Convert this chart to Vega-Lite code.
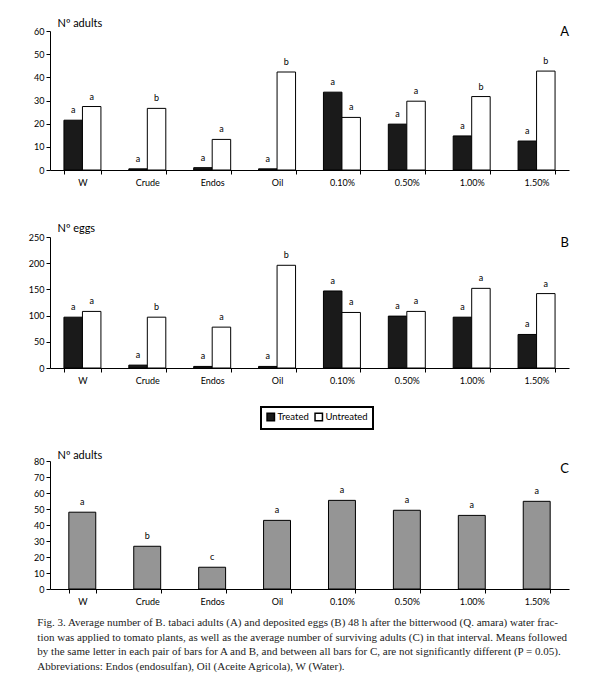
{
  "$schema": "https://vega.github.io/schema/vega-lite/v6.json",
  "background": "white",
  "padding": {"left": 28, "top": 17, "right": 10, "bottom": 5},
  "config": {
    "view": {"stroke": null},
    "font": "Lato",
    "axis": {"domainColor": "black", "tickColor": "black", "labelColor": "black", "labelFont": "Lato", "labelFontSize": 9, "titleFont": "Lato", "titleFontSize": 11, "titleFontWeight": "normal", "titleColor": "black", "grid": false, "tickSize": 4},
    "axisX": {"tickBand": "extent", "labelAngle": 0, "labelPadding": 4},
    "axisY": {"labelPadding": 2, "titleAngle": 0, "titleAlign": "left", "titleBaseline": "middle"},
    "legend": {"strokeWidth": 2},
    "title": {"font": "Lato", "fontWeight": "normal", "color": "black"}
  },
  "datasets": {
    "adults": [
      {"trt": "W", "group": "Treated", "value": 21.5, "letter": "a"},
      {"trt": "W", "group": "Untreated", "value": 27.4, "letter": "a"},
      {"trt": "Crude", "group": "Treated", "value": 0.5, "letter": "a"},
      {"trt": "Crude", "group": "Untreated", "value": 26.6, "letter": "b"},
      {"trt": "Endos", "group": "Treated", "value": 1.0, "letter": "a"},
      {"trt": "Endos", "group": "Untreated", "value": 13.2, "letter": "a"},
      {"trt": "Oil", "group": "Treated", "value": 0.5, "letter": "a"},
      {"trt": "Oil", "group": "Untreated", "value": 42.3, "letter": "b"},
      {"trt": "0.10%", "group": "Treated", "value": 33.6, "letter": "a"},
      {"trt": "0.10%", "group": "Untreated", "value": 22.7, "letter": "a"},
      {"trt": "0.50%", "group": "Treated", "value": 19.8, "letter": "a"},
      {"trt": "0.50%", "group": "Untreated", "value": 29.7, "letter": "a"},
      {"trt": "1.00%", "group": "Treated", "value": 14.7, "letter": "a"},
      {"trt": "1.00%", "group": "Untreated", "value": 31.7, "letter": "b"},
      {"trt": "1.50%", "group": "Treated", "value": 12.5, "letter": "a"},
      {"trt": "1.50%", "group": "Untreated", "value": 42.7, "letter": "b"}
    ],
    "eggs": [
      {"trt": "W", "group": "Treated", "value": 97, "letter": "a"},
      {"trt": "W", "group": "Untreated", "value": 108, "letter": "a"},
      {"trt": "Crude", "group": "Treated", "value": 5.5, "letter": "a"},
      {"trt": "Crude", "group": "Untreated", "value": 97, "letter": "b"},
      {"trt": "Endos", "group": "Treated", "value": 3, "letter": "a"},
      {"trt": "Endos", "group": "Untreated", "value": 78, "letter": "a"},
      {"trt": "Oil", "group": "Treated", "value": 3, "letter": "a"},
      {"trt": "Oil", "group": "Untreated", "value": 196, "letter": "b"},
      {"trt": "0.10%", "group": "Treated", "value": 147, "letter": "a"},
      {"trt": "0.10%", "group": "Untreated", "value": 106, "letter": "a"},
      {"trt": "0.50%", "group": "Treated", "value": 99, "letter": "a"},
      {"trt": "0.50%", "group": "Untreated", "value": 108, "letter": "a"},
      {"trt": "1.00%", "group": "Treated", "value": 97, "letter": "a"},
      {"trt": "1.00%", "group": "Untreated", "value": 152, "letter": "a"},
      {"trt": "1.50%", "group": "Treated", "value": 64, "letter": "a"},
      {"trt": "1.50%", "group": "Untreated", "value": 142, "letter": "a"}
    ],
    "survivors": [
      {"trt": "W", "value": 48, "letter": "a"},
      {"trt": "Crude", "value": 26.7, "letter": "b"},
      {"trt": "Endos", "value": 13.6, "letter": "c"},
      {"trt": "Oil", "value": 42.9, "letter": "a"},
      {"trt": "0.10%", "value": 55.4, "letter": "a"},
      {"trt": "0.50%", "value": 49.2, "letter": "a"},
      {"trt": "1.00%", "value": 46, "letter": "a"},
      {"trt": "1.50%", "value": 54.8, "letter": "a"}
    ]
  },
  "title": {
    "text": [
      "Fig. 3. Average number of B. tabaci adults (A) and deposited eggs (B) 48 h after the bitterwood (Q. amara) water frac-",
      "tion was applied to tomato plants, as well as the average number of surviving adults (C) in that interval. Means followed",
      "by the same letter in each pair of bars for A and B, and between all bars for C, are not significantly different (P = 0.05).",
      "Abbreviations: Endos (endosulfan), Oil (Aceite Agricola), W (Water)."
    ],
    "orient": "bottom",
    "anchor": "start",
    "font": "Liberation Serif",
    "fontSize": 11,
    "fontWeight": "normal",
    "lineHeight": 14.5,
    "offset": 11,
    "dx": 9,
    "color": "#222222"
  },
  "bounds": "flush",
  "spacing": 67,
  "vconcat": [
    {
      "width": 519,
      "height": 139,
      "data": {"name": "adults"},
      "title": {"text": "A", "anchor": "end", "fontSize": 13, "baseline": "middle", "offset": 0, "dy": 28},
      "encoding": {
        "x": {"field": "trt", "type": "nominal", "sort": ["W", "Crude", "Endos", "Oil", "0.10%", "0.50%", "1.00%", "1.50%"], "scale": {"paddingInner": 0.43, "paddingOuter": 0.215}, "axis": {"title": null}},
        "xOffset": {"field": "group", "type": "nominal", "sort": ["Treated", "Untreated"]},
        "y": {"field": "value", "type": "quantitative", "scale": {"domain": [0, 60], "nice": false}, "axis": {"values": [0, 10, 20, 30, 40, 50, 60], "title": "Nº adults", "titleX": 7, "titleY": -8}}
      },
      "layer": [
        {
          "mark": {"type": "bar", "stroke": "black", "strokeWidth": 1},
          "encoding": {
            "color": {"field": "group", "type": "nominal", "scale": {"domain": ["Treated", "Untreated"], "range": ["#1a1a1a", "#ffffff"]},
              "legend": {"orient": "none", "legendX": 211, "legendY": 376, "direction": "horizontal", "title": null, "strokeColor": "black", "padding": 5, "symbolType": "square", "symbolSize": 55, "symbolStrokeColor": "black", "symbolStrokeWidth": 1.5, "labelFontSize": 9.5, "labelFont": "Lato", "labelColor": "black", "columnPadding": 3, "labelOffset": 2}}
          }
        },
        {
          "mark": {"type": "text", "dy": -5, "baseline": "bottom", "fontSize": 9, "font": "Lato", "fill": "black", "color": "black"},
          "encoding": {"text": {"field": "letter"}}
        }
      ]
    },
    {
      "bounds": "flush",
      "spacing": 93,
      "vconcat": [
        {
          "width": 519,
          "height": 131,
          "data": {"name": "eggs"},
          "title": {"text": "B", "anchor": "end", "fontSize": 13, "baseline": "middle", "offset": 0, "dy": 34},
          "encoding": {
            "x": {"field": "trt", "type": "nominal", "sort": ["W", "Crude", "Endos", "Oil", "0.10%", "0.50%", "1.00%", "1.50%"], "scale": {"paddingInner": 0.43, "paddingOuter": 0.215}, "axis": {"title": null}},
            "xOffset": {"field": "group", "type": "nominal", "sort": ["Treated", "Untreated"]},
            "y": {"field": "value", "type": "quantitative", "scale": {"domain": [0, 250], "nice": false}, "axis": {"values": [0, 50, 100, 150, 200, 250], "title": "Nº eggs", "titleX": 7, "titleY": -9}}
          },
          "layer": [
            {
              "mark": {"type": "bar", "stroke": "black", "strokeWidth": 1},
              "encoding": {
                "color": {"field": "group", "type": "nominal", "scale": {"domain": ["Treated", "Untreated"], "range": ["#1a1a1a", "#ffffff"]},
                  "legend": {"orient": "none", "legendX": 211, "legendY": 376, "direction": "horizontal", "title": null, "strokeColor": "black", "padding": 5, "symbolType": "square", "symbolSize": 55, "symbolStrokeColor": "black", "symbolStrokeWidth": 1.5, "labelFontSize": 9.5, "labelFont": "Lato", "labelColor": "black", "columnPadding": 3, "labelOffset": 2}}
              }
            },
            {
              "mark": {"type": "text", "dy": -5, "baseline": "bottom", "fontSize": 9, "font": "Lato", "fill": "black", "color": "black"},
              "encoding": {"text": {"field": "letter"}}
            }
          ]
        },
        {
          "width": 519,
          "height": 128,
          "data": {"name": "survivors"},
          "title": {"text": "C", "anchor": "end", "fontSize": 13, "baseline": "middle", "offset": 0, "dy": 33},
          "encoding": {
            "x": {"field": "trt", "type": "nominal", "sort": ["W", "Crude", "Endos", "Oil", "0.10%", "0.50%", "1.00%", "1.50%"], "scale": {"paddingInner": 0.585, "paddingOuter": 0.29}, "axis": {"title": null}},
            "y": {"field": "value", "type": "quantitative", "scale": {"domain": [0, 80], "nice": false}, "axis": {"values": [0, 10, 20, 30, 40, 50, 60, 70, 80], "title": "Nº adults", "titleX": 7, "titleY": -6}}
          },
          "layer": [
            {"mark": {"type": "bar", "fill": "#959595", "stroke": "black", "strokeWidth": 1}},
            {
              "mark": {"type": "text", "dy": -5, "baseline": "bottom", "fontSize": 9, "font": "Lato", "fill": "black", "color": "black"},
              "encoding": {"text": {"field": "letter"}}
            }
          ]
        }
      ]
    }
  ]
}
